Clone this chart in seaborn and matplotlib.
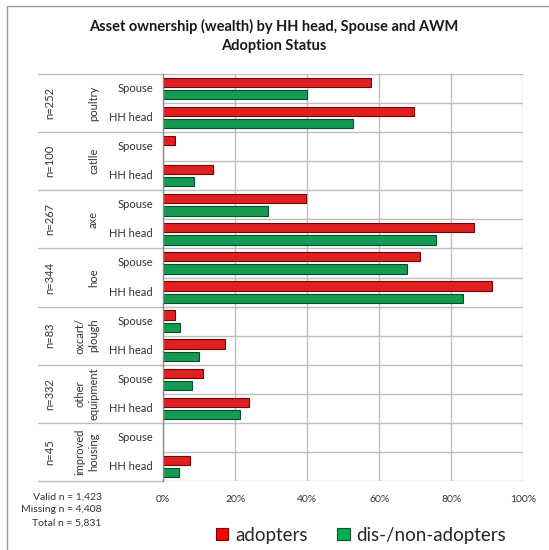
import numpy as np
import pandas as pd
import seaborn as sns
import matplotlib.pyplot as plt
from matplotlib.patches import Patch
from matplotlib.lines import Line2D
import matplotlib.transforms as mtransforms

# ---- data ----
assets = ["poultry", "catlle", "axe", "hoe", "oxcart/\nplough", "other\nequipment", "improved\nhousing"]
n_labels = ["n=252", "n=100", "n=267", "n=344", "n=83", "n=332", "n=45"]
roles = ["Spouse", "HH head"]
adopters = [57.7, 69.7, 3.3, 13.9, 39.5, 86.4, 71.3, 91.4, 3.2, 17.0, 11.1, 23.8, 0.0, 7.3]
non_adopters = [40.0, 52.8, 0.0, 8.6, 29.2, 75.7, 67.6, 83.3, 4.6, 9.8, 7.9, 21.3, 0.0, 4.4]
series_names = ["adopters", "dis-/non-adopters"]
x_ticks = [0, 20, 40, 60, 80, 100]
footer = ["Valid n = 1,423", "Missing n = 4,408", "Total n = 5,831"]
title = "Asset ownership (wealth) by HH head, Spouse and AWM\nAdoption Status"

cats = [f"{a}|{r}" for a in assets for r in roles]
df = pd.DataFrame({
    "cat": cats * 2,
    "series": [series_names[0]] * len(cats) + [series_names[1]] * len(cats),
    "value": adopters + non_adopters,
})

sns.set_style("white")
plt.rcParams["font.family"] = ["Lato", "DejaVu Sans"]

W, H = 549, 550
fig = plt.figure(figsize=(W / 100, H / 100), dpi=100)
x0, x1, ytop, ybot = 163.3, 523.3, 74, 481
ax = fig.add_axes([x0 / W, 1 - ybot / H, (x1 - x0) / W, (ybot - ytop) / H])

colors = {"adopters": "#FF0000", "dis-/non-adopters": "#00B050"}
edges = {"adopters": "#7A0000", "dis-/non-adopters": "#00502A"}
sns.barplot(data=df, y="cat", x="value", hue="series", order=cats, hue_order=series_names,
            palette=colors, width=0.84, gap=0.24, orient="h", legend=False, ax=ax,
            linewidth=0.8, edgecolor="k", errorbar=None)

for p in ax.patches:
    fc = p.get_facecolor()
    if fc[1] > 0.5:
        p.set_edgecolor(edges["dis-/non-adopters"])
    else:
        p.set_edgecolor(edges["adopters"])
    if p.get_width() == 0:
        p.set_linewidth(0)

ax.set_xlim(0, 100)
ax.set_ylim(len(cats) - 0.5, -0.5)
ax.set_xticks(x_ticks)
ax.set_xticklabels([f"{t}%" for t in x_ticks], fontsize=7.5, color="#333333")
ax.tick_params(axis="x", length=0, pad=10)
ax.set_yticks([])
ax.set_xlabel("")
ax.set_ylabel("")

grid_c = "#BDBDBD"
for t in x_ticks:
    ax.axvline(t, color=grid_c, lw=1.0, zorder=0)
for k in range(len(cats) + 1):
    ax.axhline(k - 0.5, color=grid_c, lw=1.0, zorder=0)
for s in ["top", "right", "bottom"]:
    ax.spines[s].set_visible(False)
ax.spines["left"].set_color("#8C8C8C")
ax.spines["left"].set_linewidth(1.0)

trans = mtransforms.blended_transform_factory(ax.transAxes, ax.transData)
left_ext = (38 - x0) / (x1 - x0)
for g in range(len(assets) + 1):
    ax.plot([left_ext, 0], [2 * g - 0.5, 2 * g - 0.5], transform=trans, color=grid_c,
            lw=1.0, clip_on=False)

role_x = (153 - x0) / (x1 - x0)
grp_x = (99 - x0) / (x1 - x0)
n_x = (50 - x0) / (x1 - x0)
for i, c in enumerate(cats):
    ax.text(role_x, i, roles[i % 2], transform=trans, ha="right", va="center",
            fontsize=8, color="#333333")
for g, (a, n) in enumerate(zip(assets, n_labels)):
    ax.text(grp_x, 2 * g + 0.5, a, transform=trans, ha="right", va="center",
            rotation=90, fontsize=8, color="#333333", multialignment="center", linespacing=1.25)
    ax.text(n_x, 2 * g + 0.5, n, transform=trans, ha="center", va="center",
            rotation=90, fontsize=8, color="#333333")

for j, line in enumerate(footer):
    fig.text(101.7 / W, 1 - (497 + 13 * j) / H, line, ha="right", va="center",
             fontsize=7.5, color="#333333")

fig.text(274 / W, 1 - 36 / H, title, ha="center", va="center", fontsize=10.5,
         fontweight="bold", color="#1a1a1a", linespacing=1.45)

handles = [Patch(facecolor=colors[s], edgecolor=edges[s], linewidth=0.8) for s in series_names]
fig.legend(handles, series_names, loc="center", bbox_to_anchor=(361 / W, 1 - 535 / H), ncol=2,
           frameon=False, fontsize=13.5, handlelength=0.65, handleheight=0.65,
           handletextpad=0.35, columnspacing=1.6)

fig.add_artist(Line2D([7 / W, 1], [1 - 6 / H, 1 - 6 / H], color="#9A9A9A", lw=1.0))
fig.add_artist(Line2D([7 / W, 7 / W], [0, 1 - 6 / H], color="#9A9A9A", lw=1.0))

fig.savefig("out.png", dpi=100)
